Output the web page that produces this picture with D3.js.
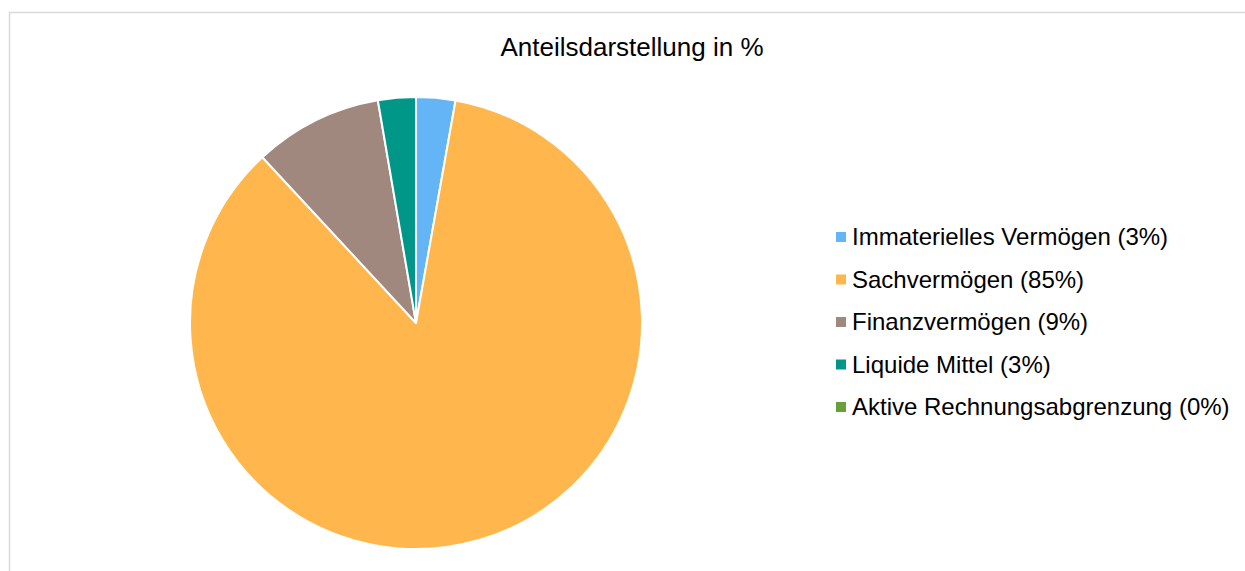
<!DOCTYPE html>
<html><head><meta charset="utf-8">
<script src="https://cdn.jsdelivr.net/npm/d3@7"></script>
<style>html,body{margin:0;padding:0;background:#fff;overflow:hidden}</style>
</head><body>
<svg id="c" width="1245" height="571"></svg>
<script>
const title = "Anteilsdarstellung in %";
const categories = ["Immaterielles Vermögen", "Sachvermögen", "Finanzvermögen", "Liquide Mittel", "Aktive Rechnungsabgrenzung"];
const values = [2.8, 85.3, 9.2, 2.7, 0];
const colors = ["#64B5F6", "#FFB74D", "#A1887F", "#009688", "#689F38"];

const svg = d3.select("#c");
const font = "'Liberation Sans', Arial, sans-serif";

svg.append("rect").attr("x", 9.5).attr("y", 12.5).attr("width", 1260).attr("height", 600)
  .attr("fill", "#fff").attr("stroke", "#d9d9d9").attr("stroke-width", 1.5);

svg.append("text").attr("x", 632).attr("y", 56).attr("text-anchor", "middle")
  .attr("font-family", font).attr("font-size", 26).attr("fill", "#000").text(title);

const data = categories.map((c, i) => ({name: c, value: values[i], color: colors[i]}));
const pie = d3.pie().value(d => d.value).sort(null);
const arc = d3.arc().innerRadius(0).outerRadius(226);

const g = svg.append("g").attr("transform", "translate(416,323)");
g.selectAll("path").data(pie(data).filter(d => d.data.value > 0)).join("path")
  .attr("d", arc).attr("fill", d => d.data.color)
  .attr("stroke", "#fff").attr("stroke-width", 2).attr("stroke-linejoin", "round");

const total = d3.sum(values);
const leg = svg.append("g").attr("transform", "translate(836,237)");
const rows = leg.selectAll("g").data(data).join("g").attr("transform", (d, i) => `translate(0,${i * 42.5})`);
rows.append("rect").attr("x", 0).attr("y", -5).attr("width", 10).attr("height", 10).attr("fill", d => d.color);
rows.append("text").attr("x", 16).attr("y", 0).attr("dy", "0.35em")
  .attr("font-family", font).attr("font-size", 24).attr("fill", "#000")
  .text(d => `${d.name} (${Math.round(d.value / total * 100)}%)`);
</script>
</body></html>
